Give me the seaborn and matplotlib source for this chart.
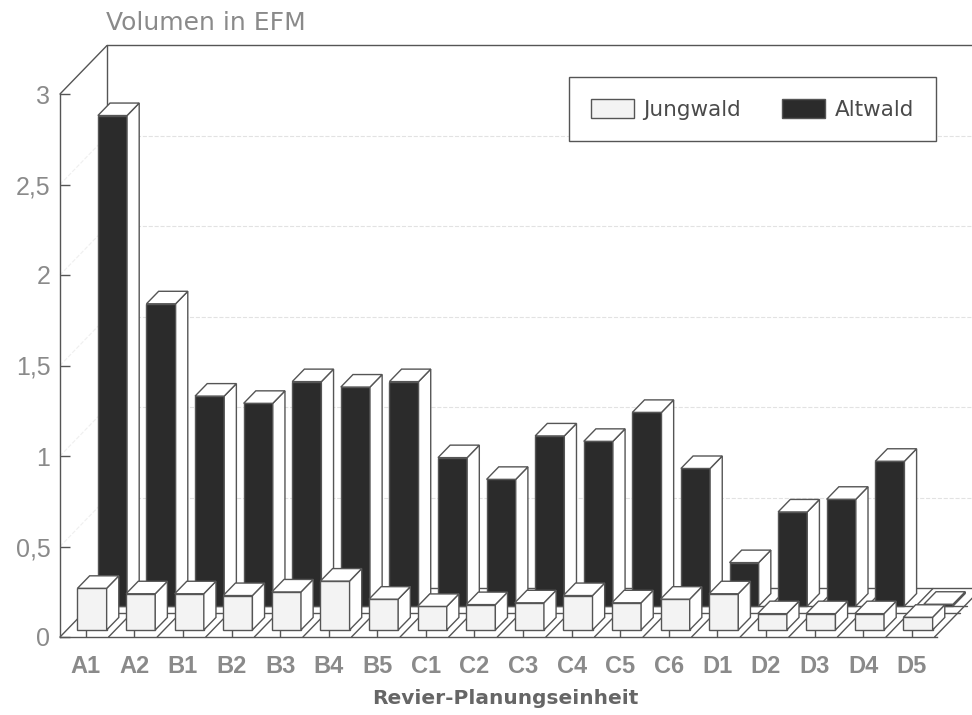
import matplotlib
matplotlib.use("Agg")
import matplotlib.pyplot as plt
from matplotlib.patches import Polygon
import numpy as np
import seaborn as sns

revier = ['A1', 'A2', 'B1', 'B2', 'B3', 'B4', 'B5', 'C1', 'C2', 'C3', 'C4', 'C5', 'C6',
          'D1', 'D2', 'D3', 'D4', 'D5']
jungwald = [0.23, 0.20, 0.20, 0.19, 0.21, 0.27, 0.17, 0.13, 0.14, 0.15, 0.19, 0.15, 0.17,
            0.20, 0.09, 0.09, 0.09, 0.07]
altwald = [2.71, 1.67, 1.16, 1.12, 1.24, 1.21, 1.24, 0.82, 0.70, 0.94, 0.91, 1.07, 0.76,
           0.24, 0.52, 0.59, 0.80, 0.01]
y_ticks = [0, 0.5, 1, 1.5, 2, 2.5, 3]
y_labels = ['0', '0,5', '1', '1,5', '2', '2,5', '3']

LINE = '#555555'
TEXT = '#8a8a8a'

sns.set_theme(style='white')
plt.rcParams['font.family'] = ['Liberation Sans', 'DejaVu Sans']

fig = plt.figure(figsize=(9.72, 7.15), dpi=100)
ax = fig.add_axes([60 / 972, 1 - 637 / 715, 877 / 972, 543 / 715])

# Tiefe der Wand und der Balken (schraege Projektion, in Achseneinheiten)
wall_dx, wall_dy = 0.967, 0.268
bar_dx, bar_dy = 0.25, 0.069
x_min, x_max = -0.53, 17.52
pos = np.arange(len(revier))

sns.barplot(x=pos + 0.13, y=jungwald, bottom=0.039, native_scale=True, width=0.6, ax=ax,
            color='#f3f3f3', saturation=1, edgecolor=LINE, linewidth=1, zorder=4,
            label='Jungwald', clip_on=False)
n_jung = len(ax.patches)
sns.barplot(x=pos + 0.55, y=altwald, bottom=0.171, native_scale=True, width=0.6, ax=ax,
            color='#2b2b2b', saturation=1, edgecolor=LINE, linewidth=1, zorder=2,
            label='Altwald', clip_on=False)


def add_depth(bars, z):
    for bar in bars:
        x0, x1 = bar.get_x(), bar.get_x() + bar.get_width()
        y0, y1 = bar.get_y(), bar.get_y() + bar.get_height()
        side = [(x1, y0), (x1 + bar_dx, y0 + bar_dy), (x1 + bar_dx, y1 + bar_dy), (x1, y1)]
        top = [(x0, y1), (x0 + bar_dx, y1 + bar_dy), (x1 + bar_dx, y1 + bar_dy), (x1, y1)]
        for face in (side, top):
            ax.add_patch(Polygon(face, facecolor='white', edgecolor=LINE, linewidth=1,
                                 zorder=z, clip_on=False))


bars = list(ax.patches)
add_depth(bars[:n_jung], 4)
add_depth(bars[n_jung:], 2)


def line(xs, ys, color=LINE, lw=1.0, ls='-'):
    ax.plot(xs, ys, color=color, lw=lw, ls=ls, zorder=1, clip_on=False)


# Boden
for i in range(len(revier) + 1):
    line([x_min + i, x_min + i + wall_dx], [0, wall_dy])
for frac in (0.5, 0.64, 1):
    line([x_min + wall_dx * frac, x_max + wall_dx * frac], [wall_dy * frac, wall_dy * frac])

# Wand
line([x_min, x_min + wall_dx], [3, 3 + wall_dy])
line([x_min + wall_dx, x_min + wall_dx], [wall_dy, 3 + wall_dy])
line([x_min + wall_dx, x_max + wall_dx], [3 + wall_dy, 3 + wall_dy])
for v in y_ticks[1:-1]:
    line([x_min + wall_dx, x_max + wall_dx], [v + wall_dy, v + wall_dy], color='#e2e2e2', ls='--', lw=0.8)
    line([x_min, x_min + wall_dx], [v, v + wall_dy], color='#efefef', ls='--', lw=0.8)

ax.set_xlim(x_min, x_max)
ax.set_ylim(0, 3)
ax.patch.set_alpha(0)
sns.despine(ax=ax, top=True, right=True)
for side in ('left', 'bottom'):
    ax.spines[side].set_color(LINE)
    ax.spines[side].set_linewidth(1)

ax.set_yticks(y_ticks, y_labels)
ax.set_xticks(pos, revier)
ax.tick_params(axis='y', direction='in', length=7.2, width=1, color=LINE, pad=7,
               labelsize=18, labelcolor=TEXT, left=True)
ax.tick_params(axis='x', direction='in', length=5, width=1, color=LINE, pad=13,
               labelsize=17, labelcolor=TEXT, bottom=True)
for t in ax.get_xticklabels():
    t.set_fontweight('bold')
ax.set_xlabel('')
ax.set_ylabel('')

fig.text(106 / 972, 1 - 23 / 715, 'Volumen in EFM', color=TEXT, fontsize=18,
         family='DejaVu Sans', va='center', ha='left')
fig.text(505 / 972, 1 - 698 / 715, 'Revier-Planungseinheit', color='#666666', fontsize=14.5,
         family='DejaVu Sans', fontweight='bold', va='center', ha='center')

handles, labels = ax.get_legend_handles_labels()
leg = ax.legend(handles, labels, ncols=2, frameon=True, fancybox=False, edgecolor=LINE, framealpha=1,
                loc='upper left', bbox_to_anchor=((569 - 60) / 877, (637 - 77) / 543),
                borderaxespad=0, prop={'family': 'DejaVu Sans', 'size': 15.5},
                labelcolor='#4a4a4a', handlelength=2.0, handleheight=1.0, columnspacing=1.9,
                handletextpad=0.45, borderpad=1.0)
leg.set_zorder(6)

fig.savefig('out.png', dpi=100)
